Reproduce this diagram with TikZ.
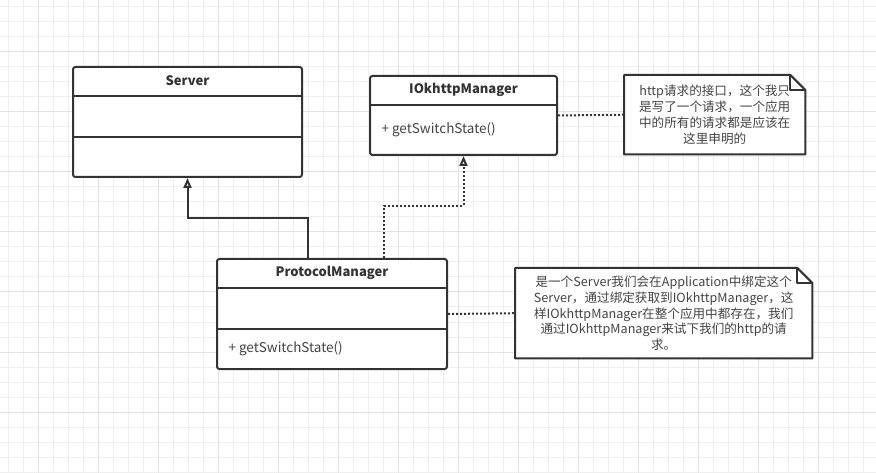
\documentclass[tikz,border=0pt]{standalone}
\usepackage{fontspec}
\setmainfont{Noto Sans CJK SC}
\usetikzlibrary{arrows.meta}
\definecolor{ink}{HTML}{333333}
\definecolor{softink}{HTML}{444444}
\definecolor{gridminor}{HTML}{EFEFEF}
\definecolor{gridmajor}{HTML}{E2E2E2}
\begin{document}
\begin{tikzpicture}[x=1pt,y=-1pt,
    cls/.style={draw=ink,line width=2pt,rounded corners=2.5pt,fill=white,
      anchor=north west,inner sep=0pt},
    sep/.style={draw=ink,line width=2pt},
    title/.style={font=\fontsize{13}{15}\selectfont\bfseries,text=ink},
    meth/.style={font=\fontsize{13.5}{15}\selectfont,text=softink,anchor=west},
    memo/.style={anchor=north west,inner sep=0pt},
    memotext/.style={font=\fontsize{12.6}{15.7}\selectfont,text=softink,align=center},
    inh/.style={draw=ink,line width=2pt,-{Triangle[open,length=10pt,width=8pt]}},
    real/.style={draw=ink,line width=2pt,dash pattern=on 2pt off 2pt,
      -{Triangle[open,length=10pt,width=8pt]}},
    tie/.style={draw=ink,line width=2pt,dash pattern=on 2pt off 2pt}]

  \useasboundingbox (0,0) rectangle (876,473);
  \fill[white] (0,0) rectangle (876,473);
  \foreach \x in {8,23,...,868} \draw[gridminor,line width=1pt] (\x,0) -- (\x,473);
  \foreach \y in {7,22,...,472} \draw[gridminor,line width=1pt] (0,\y) -- (876,\y);
  \foreach \x in {38,98,...,818} \draw[gridmajor,line width=1pt] (\x,0) -- (\x,473);
  \foreach \y in {52,112,...,412} \draw[gridmajor,line width=1pt] (0,\y) -- (876,\y);

  % classes
  \node[cls,minimum width=229pt,minimum height=110pt] (server) at (72,66) {};
  \node[title] at ([yshift=-15pt]server.north) {Server};
  \draw[sep] ([yshift=-30pt]server.north west) -- ([yshift=-30pt]server.north east);
  \draw[sep] ([yshift=-71pt]server.north west) -- ([yshift=-71pt]server.north east);

  \node[cls,minimum width=187pt,minimum height=79pt] (iok) at (369,75) {};
  \node[title] at ([yshift=-15pt]iok.north) {IOkhttpManager};
  \draw[sep] ([yshift=-30pt]iok.north west) -- ([yshift=-30pt]iok.north east);
  \node[meth] at ([xshift=9pt,yshift=-55pt]iok.north west) {+ getSwitchState()};

  \node[cls,minimum width=230pt,minimum height=110pt] (proto) at (216,258) {};
  \node[title] at ([yshift=-15pt]proto.north) {ProtocolManager};
  \draw[sep] ([yshift=-30pt]proto.north west) -- ([yshift=-30pt]proto.north east);
  \draw[sep] ([yshift=-71pt]proto.north west) -- ([yshift=-71pt]proto.north east);
  \node[meth] at ([xshift=9pt,yshift=-91pt]proto.north west) {+ getSwitchState()};

  % notes
  \node[memo,minimum width=181pt,minimum height=79pt] (note1) at (624,75) {};
  \draw[ink,line width=2pt,fill=white,line join=round]
    (note1.north west) -- ([xshift=-15pt]note1.north east)
    -- ([yshift=-15pt]note1.north east) -- (note1.south east)
    -- (note1.south west) -- cycle;
  \draw[ink,line width=2pt,line join=round]
    ([xshift=-15pt]note1.north east) -- ([xshift=-15pt,yshift=-15pt]note1.north east)
    -- ([yshift=-15pt]note1.north east);
  \node[memotext] at (note1.center) {http请求的接口，这个我只\\是写了一个请求，一个应用\\中的所有的请求都是应该在\\这里申明的};

  \node[memo,minimum width=297pt,minimum height=90pt] (note2) at (515,268) {};
  \draw[ink,line width=2pt,fill=white,line join=round]
    (note2.north west) -- ([xshift=-15pt]note2.north east)
    -- ([yshift=-15pt]note2.north east) -- (note2.south east)
    -- (note2.south west) -- cycle;
  \draw[ink,line width=2pt,line join=round]
    ([xshift=-15pt]note2.north east) -- ([xshift=-15pt,yshift=-15pt]note2.north east)
    -- ([yshift=-15pt]note2.north east);
  \node[memotext] at (note2.center) {是一个Server我们会在Application中绑定这个\\Server，通过绑定获取到IOkhttpManager，这\\样IOkhttpManager在整个应用中都存在，我们\\通过IOkhttpManager来试下我们的http的请\\求。};

  % connectors
  \draw[inh] ([xshift=-24pt]proto.north) -- ++(0,-40) -| (server.south);
  \draw[real] ([xshift=52pt]proto.north) -- ++(0,-52) -| (iok.south);
  \draw[tie] (iok.east) -- (note1.west);
  \draw[tie] (proto.east) -- (note2.west);
\end{tikzpicture}
\end{document}
